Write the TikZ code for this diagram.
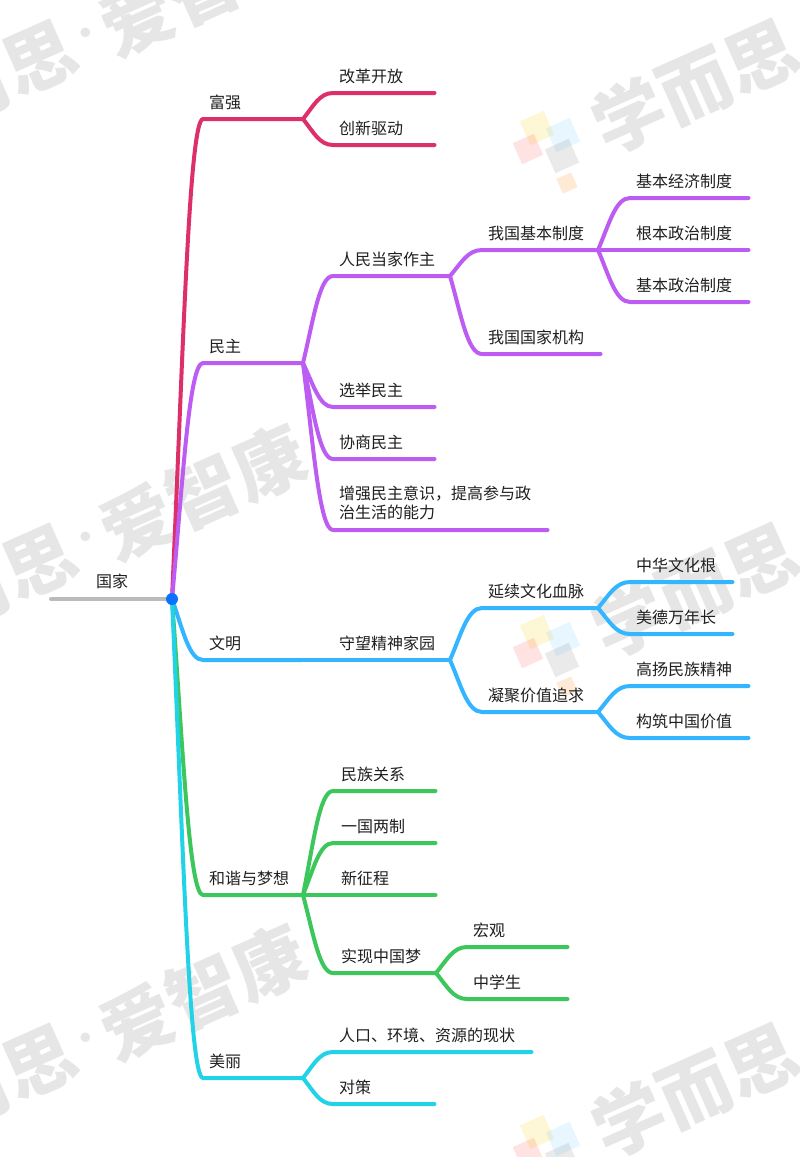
\documentclass[tikz,border=0pt]{standalone}
\usepackage{fontspec}
\setmainfont{Noto Sans CJK SC}
\usetikzlibrary{calc}
\definecolor{cred}{HTML}{DE3068}
\definecolor{cpur}{HTML}{BC5CF2}
\definecolor{cblu}{HTML}{33B5FF}
\definecolor{cgrn}{HTML}{3CC75C}
\definecolor{ccya}{HTML}{22D3E8}
\definecolor{cgry}{HTML}{BBBBBB}
\definecolor{chub}{HTML}{0A72FF}
\definecolor{wm}{HTML}{E6E6E6}
\tikzset{
  lbl/.style={anchor=west,inner sep=0pt,font=\fontsize{16}{19}\selectfont,text=black!88,align=left},
  brn/.style={line width=4pt,line cap=round,line join=round,shorten >=1.5pt},
  wmark/.style={text=wm,font=\fontsize{72}{72}\selectfont\bfseries,rotate=24,inner sep=0pt},
  wdot/.style={text=wm,font=\fontsize{34}{34}\selectfont\bfseries,rotate=24,inner sep=0pt},
  tile/.style={rotate=24,minimum size=#1,inner sep=0pt,opacity=.16}
}
% colour, from, name, corner x, y, end x, text x, label
\newcommand{\brn}[8]{%
  \coordinate (#3-s) at (#4,#5);
  \coordinate (#3-e) at (#6,#5);
  \node[lbl] (#3) at (#7,#5-17) {#8};
  \draw[brn,#1] let \p1=(#2),\p2=(#3-s) in (\p1)
    .. controls ({\x1+0.35*(\x2-\x1)},{\y1+0.5*(\y2-\y1)}) and ({\x1+0.55*(\x2-\x1)},{\y2}) .. (\p2) -- (#3-e);
}
\newcommand{\wmtile}[2]{%
  \begin{scope}[yshift=-#2pt]
    \node[wmark] (wa#1) at (40,563) {思};
    \node[wmark] (wz#1) at (-28,593) {而};
    \node[wdot] (wd#1) at (87,541) {·};
    \node[wmark] (wc#1) at (203,492) {爱智康};
    \node[wmark] (wb#1) at (695,590) {学而思};
    \node[tile=26pt,fill=yellow!70!orange] (la#1) at (537,632) {};
    \node[tile=26pt,fill=cblu!70] (lb#1) at (563,639) {};
    \node[tile=23pt,fill=red!70] (lc#1) at (528,653) {};
    \node[tile=26pt,fill=gray] (ld#1) at (562,660) {};
    \node[tile=16pt,fill=orange] (le#1) at (567,687) {};
  \end{scope}
}
\begin{document}
\begin{tikzpicture}[x=1pt,y=-1pt]
\useasboundingbox (0,0) rectangle (800,1157);
\clip (0,0) rectangle (800,1157);
\fill[white] (0,0) rectangle (800,1157);
\wmtile{A}{-504}
\wmtile{B}{0}
\wmtile{C}{500}

\coordinate (hub) at (172,599);
\coordinate (root-s) at (51,599);
\node[lbl] (root) at (96,581) {国家};
\draw[brn,cgry] (root-s) -- (hub);

% red
\brn{cred}{hub}{fq}{203}{119}{303}{209}{富强}
\brn{cred}{fq-e}{gg}{333}{93}{436}{339}{改革开放}
\brn{cred}{fq-e}{cx}{333}{145}{436}{339}{创新驱动}
% purple
\brn{cpur}{hub}{mz}{203}{363}{303}{209}{民主}
\brn{cpur}{mz-e}{rm}{333}{276}{450}{339}{人民当家作主}
\brn{cpur}{rm-e}{zd}{482}{250}{598}{488}{我国基本制度}
\brn{cpur}{rm-e}{jg}{482}{354}{602}{488}{我国国家机构}
\brn{cpur}{zd-e}{jj}{630}{198}{750}{636}{基本经济制度}
\brn{cpur}{zd-e}{gb}{630}{250}{750}{636}{根本政治制度}
\brn{cpur}{zd-e}{jb}{630}{302}{750}{636}{基本政治制度}
\brn{cpur}{mz-e}{xj}{333}{407}{436}{339}{选举民主}
\brn{cpur}{mz-e}{xs}{333}{459}{436}{339}{协商民主}
\node[lbl] (zq) at (339,503) {增强民主意识，提高参与政\\治生活的能力};
\coordinate (zq-s) at (333,530);
\coordinate (zq-e) at (549,530);
\draw[brn,cpur] let \p1=(mz-e),\p2=(zq-s) in (\p1)
  .. controls ({\x1+0.35*(\x2-\x1)},{\y1+0.5*(\y2-\y1)}) and ({\x1+0.55*(\x2-\x1)},{\y2}) .. (\p2) -- (zq-e);
% blue
\brn{cblu}{hub}{wmn}{203}{660}{303}{209}{文明}
\brn{cblu}{wmn-e}{sw}{303}{660}{450}{339}{守望精神家园}
\brn{cblu}{sw-e}{yx}{482}{608}{598}{488}{延续文化血脉}
\brn{cblu}{sw-e}{nj}{482}{712}{598}{488}{凝聚价值追求}
\brn{cblu}{yx-e}{zh}{630}{582}{734}{636}{中华文化根}
\brn{cblu}{yx-e}{md}{630}{634}{734}{636}{美德万年长}
\brn{cblu}{nj-e}{gy}{630}{686}{750}{636}{高扬民族精神}
\brn{cblu}{nj-e}{gz}{630}{738}{750}{636}{构筑中国价值}
% green
\brn{cgrn}{hub}{hx}{203}{895}{303}{209}{和谐与梦想}
\brn{cgrn}{hx-e}{mg}{333}{791}{437}{341}{民族关系}
\brn{cgrn}{hx-e}{yg}{333}{843}{437}{341}{一国两制}
\brn{cgrn}{hx-e}{xz}{333}{895}{437}{341}{新征程}
\brn{cgrn}{hx-e}{sx}{333}{973}{436}{341}{实现中国梦}
\brn{cgrn}{sx-e}{hg}{467}{947}{569}{473}{宏观}
\brn{cgrn}{sx-e}{zx}{467}{999}{569}{473}{中学生}
% cyan
\brn{ccya}{hub}{ml}{203}{1078}{303}{209}{美丽}
\brn{ccya}{ml-e}{rk}{333}{1052}{533}{339}{人口、环境、资源的现状}
\brn{ccya}{ml-e}{dc}{333}{1104}{436}{339}{对策}

\fill[chub] (hub) circle (6);
\end{tikzpicture}
\end{document}
